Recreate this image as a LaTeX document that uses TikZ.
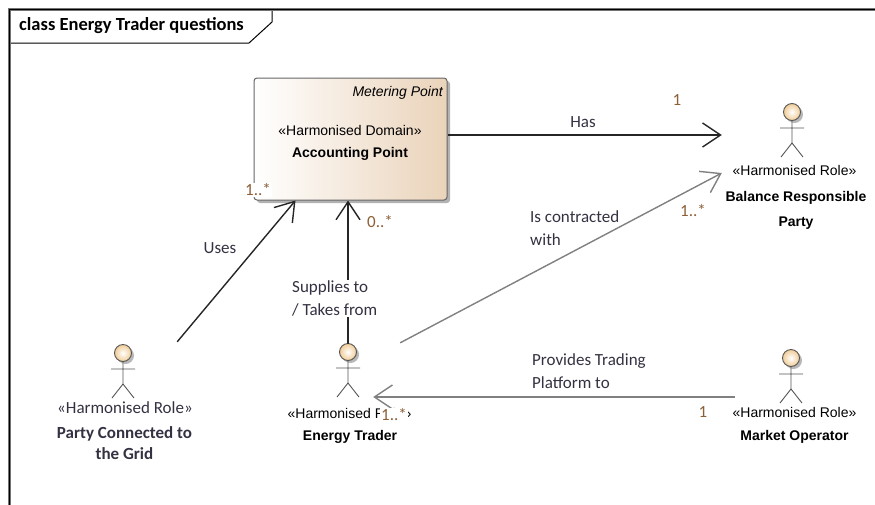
\documentclass[tikz,border=0pt]{standalone}
\usepackage{fontspec}
\setmainfont{Liberation Sans}
\newfontfamily\calfont{Carlito}
\usetikzlibrary{arrows.meta,calc}
\definecolor{labelc}{RGB}{50,50,66}
\definecolor{multc}{RGB}{140,95,55}
\definecolor{greyline}{RGB}{128,128,128}
\definecolor{boxtan}{RGB}{234,211,186}
\definecolor{headout}{RGB}{240,204,150}
\definecolor{actc}{RGB}{85,85,85}
\tikzset{
  lbl/.style={font=\calfont\fontsize{17}{23}\selectfont, text=labelc, inner sep=0pt},
  mult/.style={font=\calfont\fontsize{17}{20}\selectfont, text=multc, inner sep=1pt},
  arl/.style={font=\fontsize{14}{16}\selectfont, inner sep=0pt},
  arlb/.style={font=\fontsize{14}{16}\selectfont\bfseries, inner sep=0pt},
  titlef/.style={font=\calfont\bfseries\fontsize{18.5}{20}\selectfont, inner sep=0pt},
  blk/.style={line width=1.4pt, draw=black!85, -{Straight Barb[length=18pt,width=24pt]}},
  gry/.style={blk, draw=greyline},
  actorbox/.style={draw=none, fill=none, inner sep=0pt},
  apbox/.style={draw=black!60, line width=1pt, rounded corners=3pt, left color=white, right color=boxtan,
    minimum width=193pt, minimum height=122pt, inner sep=0pt},
  actorfig/.pic={
    \fill[black!28] (2.5pt,-2.5pt) circle (8.5pt);
    \shade[inner color=white, outer color=headout] (0,0) circle (8.5pt);
    \draw[actc, line width=0.9pt] (0,0) circle (8.5pt);
    \draw[actc, line width=0.9pt] (0,8.5) -- (0,31) (-12,16) -- (12,16) (0,31) -- (-11,45) (0,31) -- (11,45);
  }
}
\begin{document}
\begin{tikzpicture}[x=1pt,y=-1pt]
\useasboundingbox (0,0) rectangle (875,504);
% frame
\draw[line width=3.5pt, black!55] (9.5,510) -- (9.5,9.5) -- (880,9.5);
\draw[line width=1.5pt, black] (9.5,510) -- (9.5,9.5) -- (880,9.5);
\draw[line width=1pt] (11,43) -- (249,43) -- (272,22) -- (272,11);
\node[titlef, anchor=west] (title) at (19,26) {class Energy Trader questions};

% Accounting Point box
\fill[black!30, rounded corners=3pt] (257,81) rectangle (450,203);
\node[apbox] (ap) at (350.5,139) {};
\node[arl, anchor=east, font=\fontsize{14}{16}\selectfont\itshape] (apsup) at (443,93) {Metering Point};
\node[arl] (apst) at (350,130) {«Harmonised Domain»};
\node[arlb] (apname) at (350,154) {Accounting Point};

% actors (figures)
\pic at (792,112) {actorfig};
\pic at (348,352) {actorfig};
\pic at (123,353) {actorfig};
\pic at (791,358) {actorfig};

% actor element boxes (invisible)
\node[actorbox, minimum width=144pt, minimum height=130pt] (brp) at (794,165) {};
\node[actorbox, minimum width=118pt, minimum height=90pt] (mo) at (794,397) {};
\node[actorbox, minimum width=50pt, minimum height=62pt] (et) at (348,375) {};
\node[actorbox, minimum width=146pt, minimum height=102pt] (pcg) at (124,395) {};

% actor texts
\node[arl] (brpst) at (794.5,170) {«Harmonised Role»};
\node[arlb, align=center, font=\fontsize{14}{25}\selectfont\bfseries] (brpname) at (796,210) {Balance Responsible\\Party};
\node[arl] (most) at (794.5,412) {«Harmonised Role»};
\node[arlb] (moname) at (794.5,437) {Market Operator};
\node[arl] (etst) at (349.5,413) {«Harmonised Role»};
\node[arlb] (etname) at (350,437) {Energy Trader};
\node[lbl] (pcgst) at (125,408) {«Harmonised Role»};
\node[lbl, align=center, font=\calfont\bfseries\fontsize{17}{21.6}\selectfont] (pcgname) at (124.5,443) {Party Connected to\\the Grid};

% connectors
\coordinate (hasA) at ($(ap.east)+(0,-4)$);
\draw[blk] (hasA) -- (brp.west |- hasA);
\draw[gry] ($(et.north east)+(27,-1)$) -- ($(brp.west)+(0,8)$);
\draw[blk] ($(pcg.north east)+(-20,-2)$) -- ($(ap.south west)+(42,0)$);
\draw[blk] (et.north) -- (ap.south -| et.north);
\draw[gry] (mo.west) -- (et.east |- mo.west);

% connector labels
\node[lbl] (lhas) at (583,122) {Has};
\node[mult] (mhas) at (677,100) {1};
\node[lbl] (luses) at (220,248) {Uses};
\node[mult, fill=white] (muses) at (258,190) {1..*};
\node[mult] (msup) at (380,222) {0..*};
\node[lbl, align=left, anchor=west, fill=white, inner sep=1pt] (lsup) at (291,298.5) {Supplies to\\/ Takes from};
\node[lbl, align=left, anchor=west] (lcon) at (530,228.5) {Is contracted\\with};
\node[mult] (mcon) at (693,211) {1..*};
\node[lbl, align=left, anchor=west] (lprov) at (532,371.5) {Provides Trading\\Platform to};
\node[mult] (mprov) at (703,412) {1};
\node[mult, fill=white] (mprovet) at (394,415) {1..*};
\end{tikzpicture}
\end{document}
